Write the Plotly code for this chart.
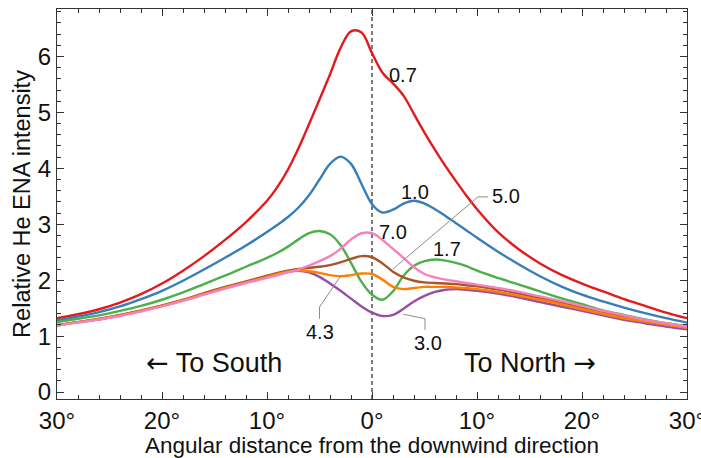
import plotly.graph_objects as go

# Angular distance from the downwind direction (deg, negative = south)
angle = [-30, -28, -26, -24, -22, -20, -18, -16, -14, -12,
         -10, -9, -8, -7, -6, -5, -4, -3, -2, -1, 0, 1, 2, 3, 4, 5, 6, 7, 8, 9, 10,
         12, 14, 16, 18, 20, 22, 24, 26, 28, 30]

# Relative He ENA intensity for each parameter value
he_07 = [1.32, 1.39, 1.48, 1.60, 1.75, 1.94, 2.17, 2.43, 2.72, 3.04,
         3.42, 3.67, 3.98, 4.36, 4.79, 5.23, 5.68, 6.15, 6.45, 6.43, 6.06, 5.71, 5.52, 5.30, 4.97,
         4.64, 4.33, 4.04, 3.77, 3.51, 3.27,
         2.86, 2.55, 2.30, 2.10, 1.94, 1.80, 1.66, 1.54, 1.42, 1.32]
he_10 = [1.28, 1.35, 1.43, 1.53, 1.66, 1.81, 1.99, 2.19, 2.40, 2.62,
         2.86, 2.99, 3.13, 3.30, 3.52, 3.80, 4.08, 4.21, 4.08, 3.72, 3.36, 3.21, 3.26, 3.37, 3.42,
         3.37, 3.27, 3.15, 3.02, 2.89, 2.76,
         2.51, 2.28, 2.07, 1.89, 1.74, 1.62, 1.51, 1.41, 1.32, 1.24]
he_17 = [1.25, 1.31, 1.37, 1.45, 1.54, 1.65, 1.78, 1.93, 2.08, 2.24,
         2.40, 2.49, 2.60, 2.73, 2.84, 2.88, 2.82, 2.63, 2.31, 1.97, 1.74, 1.65, 1.80, 2.08, 2.26,
         2.34, 2.37, 2.35, 2.31, 2.25, 2.17,
         2.04, 1.92, 1.80, 1.68, 1.57, 1.46, 1.38, 1.30, 1.23, 1.18]
he_30 = [1.19, 1.25, 1.30, 1.37, 1.45, 1.54, 1.64, 1.75, 1.86, 1.96,
         2.07, 2.11, 2.15, 2.17, 2.14, 2.06, 1.94, 1.81, 1.67, 1.53, 1.42, 1.36, 1.38, 1.49, 1.62,
         1.72, 1.79, 1.83, 1.84, 1.83, 1.81,
         1.76, 1.69, 1.61, 1.53, 1.45, 1.37, 1.29, 1.23, 1.17, 1.12]
he_43 = [1.19, 1.25, 1.30, 1.37, 1.45, 1.54, 1.64, 1.75, 1.86, 1.96,
         2.06, 2.11, 2.15, 2.17, 2.16, 2.13, 2.09, 2.07, 2.09, 2.12, 2.11, 2.01, 1.88, 1.84, 1.86,
         1.88, 1.88, 1.88, 1.87, 1.86, 1.84,
         1.79, 1.72, 1.65, 1.57, 1.48, 1.40, 1.32, 1.26, 1.20, 1.15]
he_50 = [1.20, 1.25, 1.31, 1.38, 1.46, 1.55, 1.65, 1.77, 1.88, 1.98,
         2.08, 2.13, 2.17, 2.20, 2.22, 2.24, 2.27, 2.32, 2.38, 2.43, 2.41, 2.30, 2.15, 2.05, 1.99,
         1.96, 1.95, 1.94, 1.93, 1.91, 1.89,
         1.83, 1.76, 1.68, 1.60, 1.51, 1.43, 1.35, 1.28, 1.22, 1.16]
he_70 = [1.19, 1.24, 1.30, 1.36, 1.44, 1.53, 1.63, 1.74, 1.85, 1.95,
         2.04, 2.09, 2.14, 2.19, 2.26, 2.34, 2.43, 2.56, 2.73, 2.84, 2.84, 2.72, 2.56, 2.40, 2.23,
         2.11, 2.05, 2.01, 1.98, 1.95, 1.92,
         1.86, 1.79, 1.71, 1.63, 1.54, 1.45, 1.37, 1.29, 1.23, 1.17]

x_ticks = [-30, -20, -10, 0, 10, 20, 30]
x_tick_text = ["30°", "20°", "10°", "0°", "10°", "20°", "30°"]

FONT = "Liberation Sans, Arial, sans-serif"
ARROW = "<span style='font-family:DejaVu Sans'>{}</span>"
LEADER = "#8c8c8c"

series = [
    ("0.7", he_07, "#e41a1c"),
    ("1.0", he_10, "#377eb8"),
    ("1.7", he_17, "#4daf4a"),
    ("3.0", he_30, "#984ea3"),
    ("5.0", he_50, "#a65628"),
    ("4.3", he_43, "#ff7f00"),
    ("7.0", he_70, "#f781bf"),
]

fig = go.Figure()
for name, vals, col in series:
    fig.add_trace(go.Scatter(x=angle, y=vals, mode="lines", name=name,
                             line=dict(color=col, width=2.4, shape="spline", smoothing=1.0),
                             showlegend=False, hoverinfo="skip"))


def at(vals, a):
    return vals[angle.index(a)]


# leader lines from the labels to their curves
leaders = [
    ([2.0, 10.1, 11.05], [at(he_50, 2) + 0.05, 3.49, 3.49]),
    ([-3.0, -5.0, -5.0], [at(he_43, -3), 1.52, 1.31]),
    ([3.0, 5.05, 5.05], [at(he_30, 3) - 0.1, 1.31, 1.11]),
]
for lx, ly in leaders:
    fig.add_trace(go.Scatter(x=lx, y=ly, mode="lines", line=dict(color=LEADER, width=1),
                             showlegend=False, hoverinfo="skip"))

# curve labels
labels = [
    ("0.7", 2.97, 5.67), ("1.0", 4.1, 3.57), ("7.0", 1.97, 2.87), ("1.7", 7.1, 2.55),
    ("5.0", 12.75, 3.50), ("4.3", -4.95, 1.08), ("3.0", 5.35, 0.87),
]
for txt, lx, ly in labels:
    fig.add_annotation(x=lx, y=ly, text=txt, showarrow=False,
                       font=dict(family=FONT, size=20, color="#111"))

fig.add_annotation(x=-15.05, y=0.53, text=ARROW.format("←") + " To South", showarrow=False,
                   font=dict(family=FONT, size=27, color="#111"))
fig.add_annotation(x=15.05, y=0.53, text="To North " + ARROW.format("→"), showarrow=False,
                   font=dict(family=FONT, size=27, color="#111"))

# x-axis title, set a little lower than the default placement
fig.add_annotation(xref="paper", yref="paper", x=0.5, y=-0.118, yanchor="middle",
                   text="Angular distance from the downwind direction", showarrow=False,
                   borderpad=0, font=dict(family=FONT, size=22.5, color="#111"))

# downwind direction marker
fig.add_shape(type="line", xref="x", yref="paper", x0=0, x1=0, y0=0, y1=1,
              line=dict(color="#222", width=1.2, dash="4px,3px"), layer="below")

axis_common = dict(showline=True, linecolor="#333", linewidth=1, mirror="ticks",
                   ticks="inside", tickcolor="#333", showgrid=False, zeroline=False,
                   automargin=False,
                   tickfont=dict(family=FONT, size=24, color="#111"))

fig.update_xaxes(range=[-30, 30], tickvals=x_ticks, ticktext=x_tick_text, ticklen=7,
                 ticklabeloverflow="allow",
                 minor=dict(dtick=2, ticks="inside", ticklen=4, tickcolor="#333", showgrid=False),
                 **axis_common)
fig.update_yaxes(range=[-0.125, 6.85], dtick=1, ticklen=7,
                 minor=dict(dtick=0.2, ticks="inside", ticklen=4, tickcolor="#333", showgrid=False),
                 title=dict(text="Relative He ENA intensity",
                            font=dict(family=FONT, size=23.5, color="#111"), standoff=0),
                 **axis_common)

fig.update_layout(width=701, height=458, margin=dict(l=57, r=14, t=9, b=59),
                  paper_bgcolor="white", plot_bgcolor="white")

fig.write_html("out.html")
